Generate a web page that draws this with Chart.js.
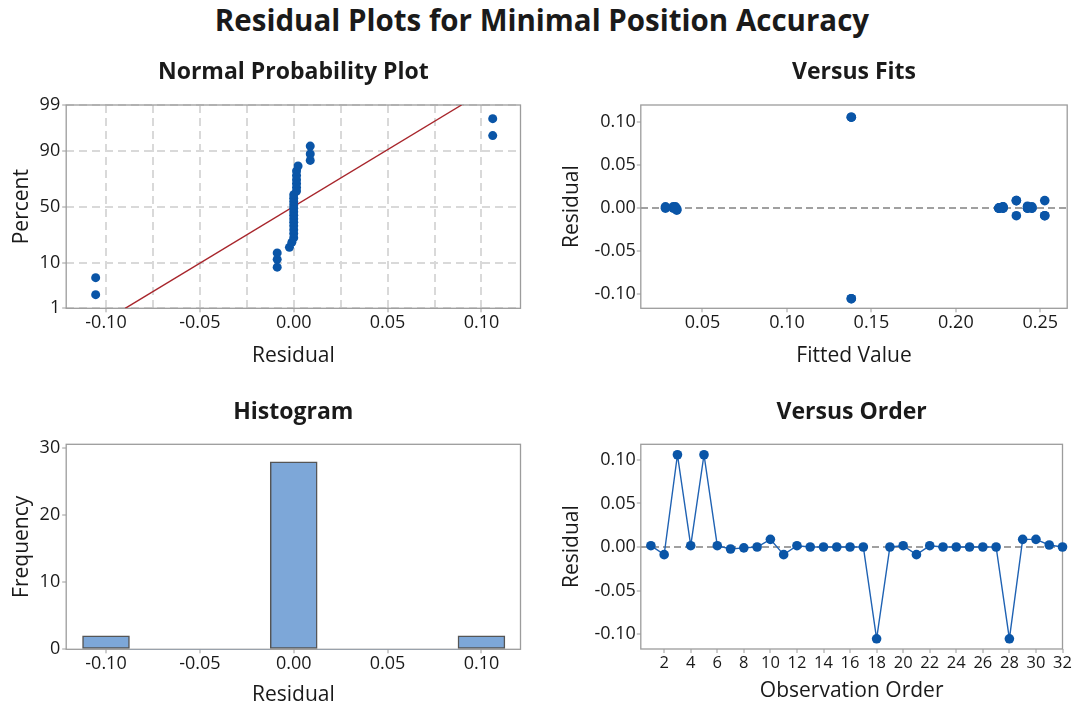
<!DOCTYPE html>
<html>
<head>
<meta charset="utf-8">
<script src="https://cdn.jsdelivr.net/npm/chart.js@4.4.1/dist/chart.umd.min.js"></script>
<style>
  body { margin: 0; width: 1072px; height: 711px; overflow: hidden; background: #fff; position: relative; }
  #main-title { position: absolute; left: 6px; top: 0; width: 1072px; height: 40px; line-height: 40px;
    text-align: center; font-family: 'Open Sans', sans-serif; font-weight: bold; font-size: 29.5px; color: #1a1a1a; }
  canvas { position: absolute; }
</style>
</head>
<body>
<div id="main-title">Residual Plots for Minimal Position Accuracy</div>
<canvas id="normal" width="536" height="340" style="left:0px;top:40px"></canvas>
<canvas id="fits" width="532" height="340" style="left:540px;top:40px"></canvas>
<canvas id="hist" width="536" height="331" style="left:0px;top:380px"></canvas>
<canvas id="order" width="532" height="331" style="left:540px;top:380px"></canvas>
<script>
// residuals in observation order
var obsOrder = [1, 2, 3, 4, 5, 6, 7, 8, 9, 10, 11, 12, 13, 14, 15, 16,
                17, 18, 19, 20, 21, 22, 23, 24, 25, 26, 27, 28, 29, 30, 31, 32];
var residuals = [0.0015, -0.0088, 0.106, 0.0015, 0.106, 0.0015, -0.0023, -0.001,
                 0, 0.0088, -0.0088, 0.0015, 0, 0, 0, 0,
                 0, -0.1055, 0, 0.0015, -0.0088, 0.0015, 0, 0,
                 0, 0, 0, -0.1055, 0.0088, 0.0088, 0.0023, 0];
var fittedValues = [0.0281, 0.2358, 0.1381, 0.0327, 0.1381, 0.0340, 0.0348, 0.0348,
                    0.0327, 0.2358, 0.2526, 0.2279, 0.2255, 0.2255, 0.2279, 0.2450,
                    0.2424, 0.1381, 0.2255, 0.2450, 0.2526, 0.2279, 0.2424, 0.2450,
                    0.2255, 0.0340, 0.0281, 0.1381, 0.2526, 0.2358, 0.2424, 0.2279];
// plotting positions of the sorted residuals (percent)
var normalPercent = [2.2, 5.2, 8.3, 11.4, 14.5, 17.6, 20.7, 23.8, 26.9, 29.9, 33.0, 36.1,
                     39.2, 42.3, 45.4, 48.5, 51.5, 54.6, 57.7, 60.8, 63.9, 67.0, 70.1, 73.1,
                     76.2, 79.3, 82.4, 85.5, 88.6, 91.7, 94.8, 97.8];
var fitLineResidual = [-0.0898, 0.0894];
var fitLinePercent = [1, 99];
var histBinCenters = [-0.1, -0.075, -0.05, -0.025, 0, 0.025, 0.05, 0.075, 0.1];
var histCounts = [2, 0, 0, 0, 28, 0, 0, 0, 2];

var normalXTicks = [-0.1, -0.075, -0.05, -0.025, 0, 0.025, 0.05, 0.075, 0.1];
var percentTicks = [1, 10, 50, 90, 99];
var residualTicks = [-0.10, -0.05, 0, 0.05, 0.10];
var fitTicks = [0.05, 0.10, 0.15, 0.20, 0.25];
var freqTicks = [0, 10, 20, 30];
var orderTicks = [2, 4, 6, 8, 10, 12, 14, 16, 18, 20, 22, 24, 26, 28, 30, 32];

var blue = '#0a55a7';
var frameGray = '#9c9c9c';
var FONT = "'Open Sans', sans-serif";
Chart.defaults.font.family = FONT;
Chart.defaults.color = '#1a1a1a';
Chart.defaults.animation = false;

// inverse normal cdf (Acklam), used for the probability axis
function probit(p) {
    var a = [-3.969683028665376e+01, 2.209460984245205e+02, -2.759285104469687e+02, 1.383577518672690e+02, -3.066479806614716e+01, 2.506628277459239e+00];
    var b = [-5.447609879822406e+01, 1.615858368580409e+02, -1.556989798598866e+02, 6.680131188771972e+01, -1.328068155288572e+01];
    var c = [-7.784894002430293e-03, -3.223964580411365e-01, -2.400758277161838e+00, -2.549732539343734e+00, 4.374664141464968e+00, 2.938163982698783e+00];
    var d = [7.784695709041462e-03, 3.224671290700398e-01, 2.445134137142996e+00, 3.754408661907416e+00];
    var plow = 0.02425, q, r;
    if (p < plow) {
        q = Math.sqrt(-2 * Math.log(p));
        return (((((c[0]*q+c[1])*q+c[2])*q+c[3])*q+c[4])*q+c[5]) / ((((d[0]*q+d[1])*q+d[2])*q+d[3])*q+1);
    }
    if (p > 1 - plow) {
        q = Math.sqrt(-2 * Math.log(1 - p));
        return -(((((c[0]*q+c[1])*q+c[2])*q+c[3])*q+c[4])*q+c[5]) / ((((d[0]*q+d[1])*q+d[2])*q+d[3])*q+1);
    }
    q = p - 0.5; r = q * q;
    return (((((a[0]*r+a[1])*r+a[2])*r+a[3])*r+a[4])*r+a[5])*q / (((((b[0]*r+b[1])*r+b[2])*r+b[3])*r+b[4])*r+1);
}

// box round the plot area
var framePlugin = {
    id: 'frame',
    beforeDatasetsDraw: function(chart) {
        var ctx = chart.ctx, a = chart.chartArea;
        ctx.save();
        ctx.strokeStyle = frameGray;
        ctx.lineWidth = 1.3;
        ctx.strokeRect(a.left, a.top, a.right - a.left, a.bottom - a.top);
        ctx.restore();
    }
};

// panel title centred over the plot area
var panelTitle = {
    id: 'panelTitle',
    afterDraw: function(chart, args, opts) {
        var ctx = chart.ctx, a = chart.chartArea;
        ctx.save();
        ctx.font = 'bold 23px ' + FONT;
        ctx.fillStyle = '#1a1a1a';
        ctx.textAlign = 'center';
        ctx.textBaseline = 'middle';
        ctx.fillText(opts.text, (a.left + a.right) / 2, opts.y);
        ctx.restore();
    }
};

function fixedTicks(list) {
    return function(scale) { scale.ticks = list.map(function(v) { return {value: v}; }); };
}
function fixWidth(w) { return function(scale) { scale.width = w; }; }
function fixHeight(h) { return function(scale) { scale.height = h; }; }
function fmt2(v) { return v.toFixed(2); }

function xAxis(opts) {
    return {
        type: 'linear',
        min: opts.min, max: opts.max,
        offset: false,
        afterBuildTicks: fixedTicks(opts.ticks),
        afterFit: fixHeight(opts.height),
        border: {display: false, dash: opts.dash || []},
        grid: {
            offset: false,
            drawOnChartArea: !!opts.gridColor,
            color: opts.gridColor || 'transparent',
            lineWidth: 2,
            tickLength: 4,
            tickColor: opts.tickColor || frameGray,
            tickWidth: 1
        },
        ticks: {autoSkip: false, maxRotation: 0, padding: 0, font: {size: opts.tickSize || 18},
                callback: opts.label || fmt2},
        title: {display: true, text: opts.title, font: {size: 21}, padding: {top: 0, bottom: opts.titlePad}}
    };
}

function yAxis(opts) {
    return {
        type: 'linear',
        min: opts.min, max: opts.max,
        afterBuildTicks: fixedTicks(opts.ticks),
        afterFit: fixWidth(opts.width),
        border: {display: false, dash: opts.dash || []},
        grid: {
            drawOnChartArea: !!opts.gridColor,
            color: opts.gridColor || 'transparent',
            lineWidth: 2,
            tickLength: 4,
            tickColor: frameGray,
            tickWidth: 1
        },
        ticks: {autoSkip: false, padding: opts.tickPad, font: {size: 18}, callback: opts.label || fmt2},
        title: {display: true, text: opts.title, font: {size: 21}, padding: {top: opts.titlePad, bottom: 0}}
    };
}

function zeroLine(c) {
    return c.tick && Math.abs(c.tick.value) < 1e-9 ? '#a0a0a0' : 'transparent';
}

// Normal probability plot
var sortedRes = residuals.slice().sort(function(a, b) { return a - b; });
new Chart(document.getElementById('normal'), {
    type: 'scatter',
    data: {
        datasets: [{
            data: sortedRes.map(function(r, i) { return {x: r, y: probit(normalPercent[i] / 100)}; }),
            backgroundColor: blue, borderWidth: 0, pointRadius: 4.5, pointHoverRadius: 4.5
        }, {
            data: fitLineResidual.map(function(r, i) { return {x: r, y: probit(fitLinePercent[i] / 100)}; }),
            showLine: true, borderColor: '#a8262c', borderWidth: 1.4, pointRadius: 0
        }]
    },
    options: {
        responsive: false,
        layout: {padding: {top: 65, right: 15.5, bottom: 0, left: 0}},
        plugins: {legend: {display: false}, tooltip: {enabled: false},
                  panelTitle: {text: 'Normal Probability Plot', y: 32}},
        scales: {
            x: xAxis({min: -0.1212, max: 0.1208, ticks: normalXTicks, height: 71.7, title: 'Residual', titlePad: 11,
                      gridColor: '#d9d9d9', dash: [8, 5],
                      tickColor: function(c) { return Math.abs(Math.round(c.tick.value * 20) - c.tick.value * 20) < 1e-6 ? frameGray : 'transparent'; },
                      label: function(v) { return Math.abs(Math.round(v * 20) - v * 20) < 1e-6 ? v.toFixed(2) : ''; }}),
            y: yAxis({min: probit(0.01), max: probit(0.99), width: 66.2, tickPad: 2, title: 'Percent', titlePad: 9,
                      ticks: percentTicks.map(function(p) { return probit(p / 100); }),
                      gridColor: '#d9d9d9', dash: [8, 5],
                      label: function(v, i) { return percentTicks[i]; }})
        }
    },
    plugins: [framePlugin, panelTitle]
});

// Versus fits
new Chart(document.getElementById('fits'), {
    type: 'scatter',
    data: {
        datasets: [{
            data: fittedValues.map(function(f, i) { return {x: f, y: residuals[i]}; }),
            backgroundColor: blue, borderWidth: 0, pointRadius: 4.8, pointHoverRadius: 4.8
        }]
    },
    options: {
        responsive: false,
        layout: {padding: {top: 65, right: 1.3, bottom: 0, left: 0}},
        plugins: {legend: {display: false}, tooltip: {enabled: false},
                  panelTitle: {text: 'Versus Fits', y: 32}},
        scales: {
            x: xAxis({min: 0.0135, max: 0.2659, ticks: fitTicks, height: 71.7, title: 'Fitted Value', titlePad: 11}),
            y: yAxis({min: -0.1167, max: 0.1202, ticks: residualTicks, width: 100.8, tickPad: 1, title: 'Residual',
                      titlePad: 19, gridColor: zeroLine, dash: [7, 4]})
        }
    },
    plugins: [framePlugin, panelTitle]
});

// Histogram
new Chart(document.getElementById('hist'), {
    type: 'bar',
    data: {
        datasets: [{
            data: histBinCenters.map(function(x, i) { return {x: x, y: histCounts[i]}; }),
            backgroundColor: '#7da7d8',
            borderColor: '#555555',
            borderWidth: function(c) { return c.raw && c.raw.y > 0 ? 1.5 : 0; },
            borderSkipped: false,
            barPercentage: 1,
            categoryPercentage: 1
        }]
    },
    options: {
        responsive: false,
        layout: {padding: {top: 64.3, right: 15.5, bottom: 0, left: 0}},
        plugins: {legend: {display: false}, tooltip: {enabled: false},
                  panelTitle: {text: 'Histogram', y: 32}},
        scales: {
            x: xAxis({min: -0.1212, max: 0.1208, ticks: residualTicks, height: 61.7, title: 'Residual', titlePad: 3}),
            y: yAxis({min: 0, max: 30.6, ticks: freqTicks, width: 66.2, tickPad: 2, title: 'Frequency', titlePad: 9,
                      label: function(v) { return v; }})
        }
    },
    plugins: [framePlugin, panelTitle]
});

// Versus order
new Chart(document.getElementById('order'), {
    type: 'scatter',
    data: {
        datasets: [{
            data: obsOrder.map(function(o, i) { return {x: o, y: residuals[i]}; }),
            showLine: true,
            borderColor: '#1f62b3', borderWidth: 1.4,
            backgroundColor: blue, pointBorderWidth: 0, pointRadius: 4.8, pointHoverRadius: 4.8,
            clip: false
        }]
    },
    options: {
        responsive: false,
        layout: {padding: {top: 64.3, right: 9.5, bottom: 0, left: 0}},
        plugins: {legend: {display: false}, tooltip: {enabled: false},
                  panelTitle: {text: 'Versus Order', y: 32}},
        scales: {
            x: xAxis({min: 0.24, max: 32, ticks: orderTicks, height: 62, title: 'Observation Order', titlePad: 7,
                      tickSize: 16.5, label: function(v) { return v; }}),
            y: yAxis({min: -0.1172, max: 0.118, ticks: residualTicks, width: 100.8, tickPad: 1, title: 'Residual',
                      titlePad: 19, gridColor: zeroLine, dash: [7, 4]})
        }
    },
    plugins: [framePlugin, panelTitle]
});
</script>
</body>
</html>
